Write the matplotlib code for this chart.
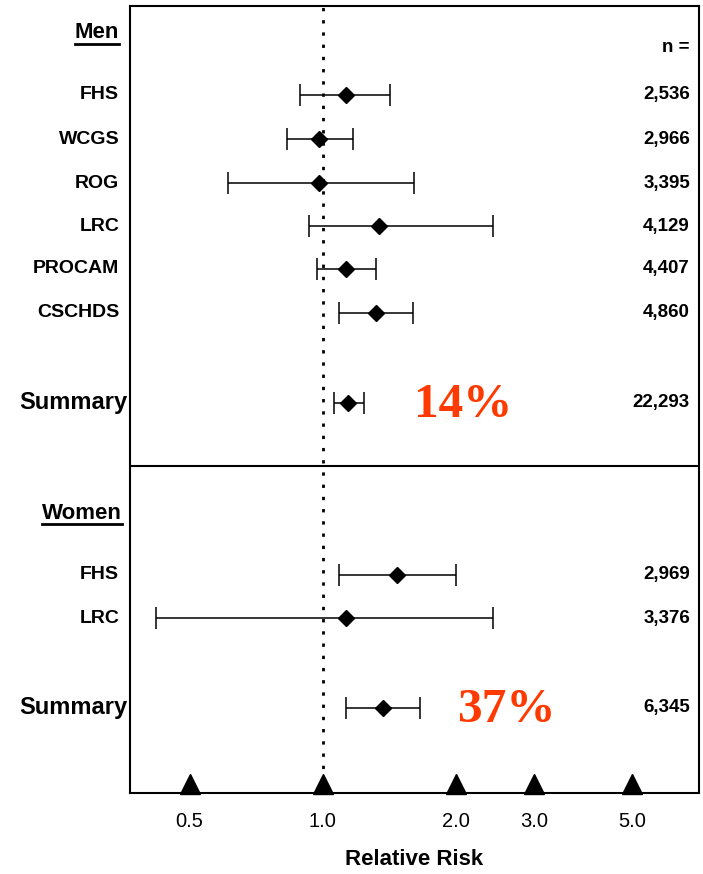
import numpy as np
import matplotlib
matplotlib.use("Agg")
import matplotlib.pyplot as plt

plt.rcParams['font.family'] = ['Liberation Sans', 'DejaVu Sans']

# datos (riesgo relativo e intervalos)
men_labels = ['FHS', 'WCGS', 'ROG', 'LRC', 'PROCAM', 'CSCHDS']
men_rr = [1.13, 0.98, 0.98, 1.34, 1.13, 1.32]
men_lo = [0.89, 0.83, 0.61, 0.93, 0.97, 1.09]
men_hi = [1.42, 1.17, 1.61, 2.43, 1.32, 1.60]
men_n = ['2,536', '2,966', '3,395', '4,129', '4,407', '4,860']
men_sum = [1.14, 1.06, 1.24]
men_sum_n = '22,293'

women_labels = ['FHS', 'LRC']
women_rr = [1.47, 1.13]
women_lo = [1.09, 0.42]
women_hi = [2.00, 2.43]
women_n = ['2,969', '3,376']
women_sum = [1.37, 1.13, 1.66]
women_sum_n = '6,345'

xticks = [0.5, 1.0, 2.0, 3.0, 5.0]
xtick_labels = ['0.5', '1.0', '2.0', '3.0', '5.0']

# posiciones verticales (filas)
men_y = [2.04, 3.05, 4.06, 5.05, 6.03, 7.04]
men_sum_y = 9.1
women_y = [13.05, 14.04]
women_sum_y = 16.1
y_bottom = 18.05

fig = plt.figure(figsize=(7.03, 8.74), dpi=100)
ax = fig.add_axes([0.185, 0.0927, 0.8094, 0.9004])
ax.set_xscale('log')
ax.set_xlim(0.367, 7.08)
ax.set_ylim(y_bottom, 0)

def draw_rows(y, rr, lo, hi):
    rr = np.array(rr); lo = np.array(lo); hi = np.array(hi)
    ax.errorbar(rr, y, xerr=[rr - lo, hi - rr], fmt='D', color='black',
                ms=8, capsize=8, elinewidth=1.1, capthick=1.1, zorder=3)

draw_rows(men_y, men_rr, men_lo, men_hi)
draw_rows([men_sum_y], [men_sum[0]], [men_sum[1]], [men_sum[2]])
draw_rows(women_y, women_rr, women_lo, women_hi)
draw_rows([women_sum_y], [women_sum[0]], [women_sum[1]], [women_sum[2]])

ax.axvline(1.0, color='black', lw=2, linestyle=(0, (1.2, 3.2)), zorder=1)
ax.axhline(10.55, color='black', lw=1.5)

# triangulos sobre el eje
ax.plot(xticks, [y_bottom - 0.2] * len(xticks), '^', color='black', ms=14.5,
        clip_on=False, zorder=4)

ax.set_xticks(xticks)
ax.set_xticklabels(xtick_labels, fontsize=14.5)
ax.xaxis.set_minor_locator(matplotlib.ticker.NullLocator())
ax.tick_params(axis='x', length=0, pad=14)
ax.set_yticks([])
for s in ax.spines.values():
    s.set_linewidth(1.5)

ax.set_xlabel('Relative Risk', fontsize=16, fontweight='bold', labelpad=13)

trans = matplotlib.transforms.blended_transform_factory(ax.transAxes, ax.transData)

for lab, y in zip(men_labels + women_labels, men_y + women_y):
    ax.text(-0.019, y, lab, transform=trans, ha='right', va='center',
            fontsize=14, fontweight='bold')
for lab, y in [('Summary', men_sum_y), ('Summary', women_sum_y)]:
    ax.text(-0.005, y, lab, transform=trans, ha='right', va='center',
            fontsize=17, fontweight='bold')

for n, y in zip(men_n + [men_sum_n] + women_n + [women_sum_n],
                men_y + [men_sum_y] + women_y + [women_sum_y]):
    ax.text(0.984, y, n, transform=trans, ha='right', va='center',
            fontsize=13.5, fontweight='bold')
ax.text(0.984, 0.94, 'n =', transform=trans, ha='right', va='center',
        fontsize=13.5, fontweight='bold')

titles = []
titles.append(ax.text(-0.019, 0.6, 'Men', transform=trans, ha='right',
                      va='center', fontsize=16, fontweight='bold'))
titles.append(ax.text(-0.015, 11.63, 'Women', transform=trans, ha='right',
                      va='center', fontsize=16, fontweight='bold'))

ax.text(2.07, 9.15, '14%', ha='center', va='center', fontsize=35.5,
        fontweight='bold', family='Liberation Serif', color='#ff3a00')
ax.text(2.6, 16.15, '37%', ha='center', va='center', fontsize=35.5,
        fontweight='bold', family='Liberation Serif', color='#ff3a00')

# subrayado de los titulos
fig.canvas.draw()
r = fig.canvas.get_renderer()
for t in titles:
    bb = t.get_window_extent(r).transformed(fig.transFigure.inverted())
    yy = bb.y0 - 0.001
    fig.add_artist(matplotlib.lines.Line2D([bb.x0, bb.x1], [yy, yy],
                                           color='black', lw=2))

fig.savefig('out.png', dpi=100)
